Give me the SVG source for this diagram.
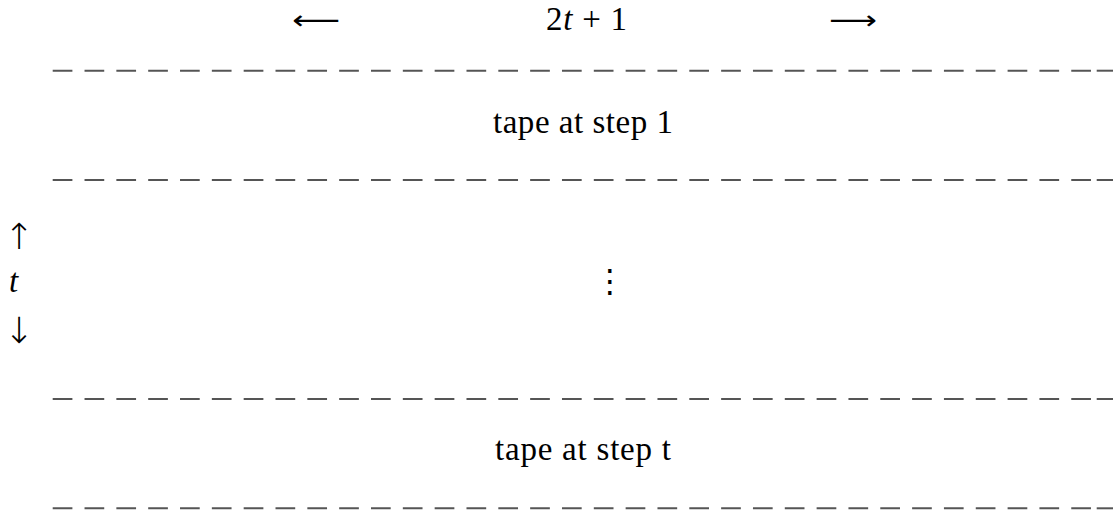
<svg xmlns="http://www.w3.org/2000/svg" width="1113" height="518" viewBox="0 0 1113 518">
  <style>
    .rule { stroke: #555555; stroke-width: 2; stroke-dasharray: 19.7 12.13; fill: none; }
    .tail { stroke: #555555; stroke-width: 2; fill: none; }
    .lbl { font-family: 'Liberation Serif', 'DejaVu Serif', serif; font-size: 33px; fill: #000000; }
    .sym { font-family: 'DejaVu Sans', sans-serif; fill: #000000; }
  </style>
  <rect width="1113" height="518" fill="#ffffff"/>

  <!-- width header: 2t+1 between long arrows -->
  <g id="width-header">
    <text class="sym" x="292" y="29" font-size="26" textLength="48" lengthAdjust="spacingAndGlyphs">⟵</text>
    <text class="lbl" x="546" y="30" textLength="81" lengthAdjust="spacing">2<tspan font-style="italic">t</tspan> + 1</text>
    <text class="sym" x="829" y="29" font-size="26" textLength="48" lengthAdjust="spacingAndGlyphs">⟶</text>
  </g>

  <!-- dashed row boundaries -->
  <g id="rules">
    <line class="rule" x1="52.7" y1="70.7" x2="1091" y2="70.7"/>
    <line class="tail" x1="1096.7" y1="70.7" x2="1113" y2="70.7"/>
    <line class="rule" x1="52.7" y1="180" x2="1091" y2="180"/>
    <line class="tail" x1="1096.7" y1="180" x2="1113" y2="180"/>
    <line class="rule" x1="52.7" y1="399" x2="1091" y2="399"/>
    <line class="tail" x1="1096.7" y1="399" x2="1113" y2="399"/>
    <line class="rule" x1="52.7" y1="508.3" x2="1091" y2="508.3"/>
    <line class="tail" x1="1096.7" y1="508.3" x2="1113" y2="508.3"/>
  </g>

  <!-- first tape row -->
  <g id="row-step-1">
    <text class="lbl" x="493" y="133.3" textLength="180" lengthAdjust="spacing">tape at step 1</text>
  </g>

  <!-- elided middle rows -->
  <g id="row-dots">
    <text class="sym" x="594" y="292" font-size="32">⋮</text>
  </g>

  <!-- last tape row -->
  <g id="row-step-t">
    <text class="lbl" x="495" y="460" textLength="176" lengthAdjust="spacing">tape at step t</text>
  </g>

  <!-- height marker: t rows -->
  <g id="height-marker">
    <text class="sym" x="4" y="249" font-size="36" font-weight="200">↑</text>
    <text class="lbl" x="9" y="292" font-style="italic">t</text>
    <text class="sym" x="4" y="343" font-size="36" font-weight="200">↓</text>
  </g>
</svg>
